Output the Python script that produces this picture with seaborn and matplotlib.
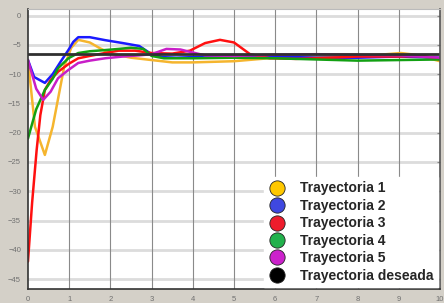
import pandas as pd
import matplotlib
matplotlib.use("Agg")
import matplotlib.pyplot as plt
import seaborn as sns
from matplotlib.lines import Line2D

# Data
t1 = [0, 0.17, 0.41, 0.6, 0.88, 1.05, 1.22, 1.5, 1.75, 2.0, 2.5, 3.0, 3.5, 4.0, 5.0, 5.5, 6.0, 7.0, 8.0, 8.7, 9.05, 9.4, 10]
v1 = [-7.6, -19, -23.8, -19, -8.7, -5.5, -4.15, -4.6, -5.6, -6.5, -7.2, -7.6, -8.0, -8.0, -7.8, -7.5, -7.2, -7.1, -7.0, -6.6, -6.4, -6.7, -7.8]

t2 = [0, 0.15, 0.41, 0.6, 0.8, 0.98, 1.1, 1.22, 1.5, 1.87, 2.3, 2.7, 3.0, 3.25, 3.6, 4.0, 5.0, 6.0, 7.0, 8.0, 9.0, 10]
v2 = [-7.6, -10.5, -11.5, -10.0, -7.8, -5.9, -4.5, -3.7, -3.7, -4.2, -4.7, -5.2, -6.6, -7.1, -7.2, -7.1, -7.0, -7.0, -7.2, -7.2, -7.0, -7.2]

t3 = [0, 0.1, 0.21, 0.3, 0.41, 0.55, 0.73, 1.0, 1.22, 1.5, 1.87, 2.2, 2.6, 3.0, 3.5, 3.93, 4.3, 4.66, 5.0, 5.39, 5.87, 6.5, 7.0, 8.0, 9.0, 9.6, 10]
v3 = [-42, -32, -23, -17, -12.7, -11, -9.6, -8.2, -7.3, -6.9, -6.4, -6.0, -6.0, -6.4, -6.5, -6.0, -4.7, -4.15, -4.6, -6.6, -7.3, -7.4, -7.3, -7.0, -7.0, -6.9, -7.5]

t4 = [0, 0.2, 0.41, 0.6, 0.73, 0.98, 1.22, 1.5, 1.87, 2.2, 2.5, 2.8, 3.0, 3.3, 4.0, 5.0, 6.0, 7.0, 8.0, 9.0, 10]
v4 = [-21, -16, -12.7, -10.8, -9.0, -7.3, -6.4, -6.1, -5.9, -5.7, -5.5, -5.7, -6.9, -7.3, -7.3, -7.2, -7.3, -7.5, -7.7, -7.6, -7.5]

t5 = [0, 0.2, 0.37, 0.55, 0.73, 0.98, 1.22, 1.5, 1.87, 2.3, 2.7, 3.0, 3.36, 3.7, 3.93, 4.3, 5.0, 6.0, 7.0, 8.0, 9.0, 10]
v5 = [-7.6, -12.5, -14.4, -13, -10.7, -9.3, -8.1, -7.7, -7.3, -7.0, -6.8, -6.6, -5.7, -5.8, -6.2, -6.8, -6.9, -6.7, -6.6, -6.7, -6.8, -7.2]

t_ref = [0, 10]
v_ref = [-6.5, -6.5]

labels = ["Trayectoria 1", "Trayectoria 2", "Trayectoria 3", "Trayectoria 4", "Trayectoria 5", "Trayectoria deseada"]
line_colors = ["#f5b52e", "#1a1aff", "#ff1010", "#12a012", "#c81ec8", "#303030"]
marker_colors = ["#ffc800", "#3f48e0", "#ee1c2c", "#22b14c", "#cc22cc", "#000000"]

series = [(t1, v1), (t2, v2), (t3, v3), (t4, v4), (t5, v5), (t_ref, v_ref)]
frames = []
for name, (t, v) in zip(labels, series):
    frames.append(pd.DataFrame({"t": t, "v": v, "serie": name}))
df = pd.concat(frames, ignore_index=True)

sns.set_style("white")
plt.rcParams["font.family"] = ["Liberation Sans", "DejaVu Sans"]

fig = plt.figure(figsize=(4.44, 3.03), dpi=100, facecolor="#d4d0c8")
ax = fig.add_axes([0.063, 0.046, 0.928, 0.924])
ax.set_facecolor("white")

# horizontal light grid, vertical darker grid
for y in range(0, -50, -5):
    ax.axhline(y, color="#dcdcdc", lw=2, zorder=0)
for x in range(1, 10):
    ax.axvline(x, color="#8a8a8a", lw=0.8, zorder=0)

sns.lineplot(data=df, x="t", y="v", hue="serie", palette=dict(zip(labels, line_colors)),
             hue_order=labels, lw=1.8, legend=False, ax=ax, sort=False)
# black reference line a bit thicker
ax.lines[-1].set_linewidth(2.0)

ax.set_xlim(0, 10)
ax.set_ylim(-46.7, 1.1)
ax.set_xticks(range(0, 11))
ax.set_yticks(range(0, -50, -5))
ax.set_xlabel("")
ax.set_ylabel("")
ax.tick_params(axis="both", labelsize=5.5, labelcolor="#707070", length=0, pad=5)
ax.tick_params(axis="y", right=True, direction="in", length=2, color="#888888")

for side in ["left", "bottom"]:
    ax.spines[side].set_color("#333333")
    ax.spines[side].set_linewidth(1.2)
ax.spines["top"].set_color("#bbbbbb")
ax.spines["right"].set_color("#555555")
ax.spines["right"].set_linewidth(1.2)

handles = [Line2D([], [], linestyle="none", marker="o", markersize=11,
                  markerfacecolor=c, markeredgecolor="#222222", markeredgewidth=0.6)
           for c in marker_colors]
leg = ax.legend(handles, labels, loc="lower right", frameon=True, fancybox=False,
                prop={"weight": "bold", "size": 10}, handletextpad=1.1,
                labelspacing=0.25, borderpad=0.3, borderaxespad=0.15, handlelength=1.2)
leg.get_frame().set_edgecolor("white")
leg.get_frame().set_alpha(1)

fig.savefig("out.png", dpi=100, facecolor=fig.get_facecolor())
